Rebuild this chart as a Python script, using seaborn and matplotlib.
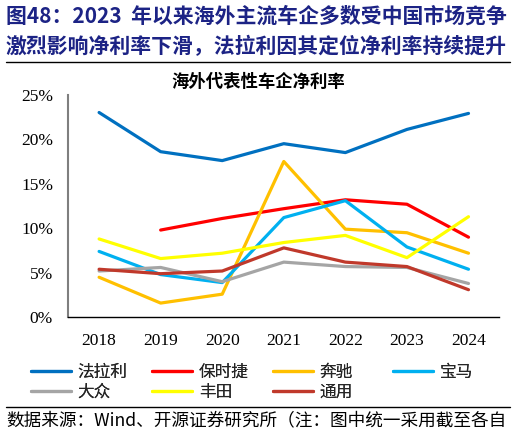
import numpy as np
import pandas as pd
import seaborn as sns
import matplotlib.pyplot as plt
from matplotlib.lines import Line2D
from matplotlib.ticker import FixedLocator, PercentFormatter

years = ["2018", "2019", "2020", "2021", "2022", "2023", "2024"]
ferrari = [23.0, 18.6, 17.6, 19.5, 18.5, 21.1, 22.9]
porsche = [np.nan, 9.8, 11.1, 12.2, 13.2, 12.7, 9.0]
benz = [4.5, 1.6, 2.6, 17.5, 9.9, 9.5, 7.2]
bmw = [7.4, 4.8, 3.9, 11.2, 13.1, 7.9, 5.4]
vw = [5.2, 5.6, 4.0, 6.2, 5.7, 5.6, 3.8]
toyota = [8.8, 6.6, 7.2, 8.4, 9.2, 6.7, 11.3]
gm = [5.4, 4.9, 5.2, 7.8, 6.2, 5.7, 3.1]

names = ["法拉利", "保时捷", "奔驰", "宝马", "大众", "丰田", "通用"]
series = [ferrari, porsche, benz, bmw, vw, toyota, gm]
colors = ["#0070C0", "#FF0000", "#FFC000", "#00B0F0", "#A5A5A5", "#FFFF00", "#C0392B"]

rows = []
for name, vals in zip(names, series):
    for y, v in zip(years, vals):
        rows.append({"year": y, "company": name, "value": v})
df = pd.DataFrame(rows).dropna()

sns.set_style("white")
plt.rcParams["font.family"] = ["Noto Sans CJK SC", "DejaVu Sans"]

fig = plt.figure(figsize=(5.16, 4.36), dpi=100)
ax = fig.add_axes([0.1324, 0.2722, 0.8352, 0.5106])

sns.lineplot(data=df, x="year", y="value", hue="company", hue_order=names,
             palette=dict(zip(names, colors)), linewidth=2.3, ax=ax,
             legend=False, sort=False)

ax.set_xlim(-0.5, 6.5)
ax.set_ylim(0, 25)
ax.set_yticks([0, 5, 10, 15, 20, 25])
ax.yaxis.set_major_formatter(PercentFormatter(decimals=0))
ax.set_xlabel("")
ax.set_ylabel("")
ax.xaxis.set_minor_locator(FixedLocator(np.arange(-0.5, 7, 1)))
ax.tick_params(axis="x", which="major", length=0, pad=11)
ax.tick_params(axis="x", which="minor", direction="in", length=5, width=0.8, color="black")
ax.tick_params(axis="y", length=0, pad=11)
for lab in ax.get_xticklabels() + ax.get_yticklabels():
    lab.set_fontfamily("Liberation Serif")
    lab.set_fontsize(12.5)
    lab.set_color("black")

sns.despine(ax=ax)
ax.spines["left"].set_color("#7F7F7F")
ax.spines["left"].set_linewidth(1.5)
ax.spines["bottom"].set_color("black")
ax.spines["bottom"].set_linewidth(1.0)

navy = "#1C2385"
fig.text(0.012, 0.962, "图48：2023  年以来海外主流车企多数受中国市场竞争",
         fontsize=15, fontweight="bold", color=navy, va="center", ha="left")
fig.text(0.01, 0.893, "激烈影响净利率下滑，法拉利因其定位净利率持续提升",
         fontsize=15, fontweight="bold", color=navy, va="center", ha="left")
fig.add_artist(Line2D([0.012, 0.988], [0.857, 0.857], color="black", lw=1.0))
fig.text(0.5, 0.812, "海外代表性车企净利率", fontsize=12.5, fontweight="bold",
         ha="center", va="center", color="black")

# legend: four fixed-width columns, filled row by row
handles = [Line2D([], [], color=c, lw=2.3) for c in colors]
col_x = [0.060, 0.295, 0.529, 0.762]
for j, x0 in enumerate(col_x):
    idx = [i for i in (j, j + 4) if i < len(names)]
    leg = fig.legend([handles[i] for i in idx], [names[i] for i in idx],
                     loc="upper left", bbox_to_anchor=(x0, 0.166), frameon=False,
                     fontsize=12, handlelength=2.4, handletextpad=0.4,
                     labelspacing=0.2, borderpad=0, borderaxespad=0)
    fig.add_artist(leg)

fig.add_artist(Line2D([0.012, 0.988], [0.067, 0.067], color="black", lw=1.0))
fig.text(0.012, 0.035, "数据来源：Wind、开源证券研究所（注：图中统一采用截至各自",
         fontsize=12.7, ha="left", va="center", color="black")

fig.savefig("out.png", dpi=100)
